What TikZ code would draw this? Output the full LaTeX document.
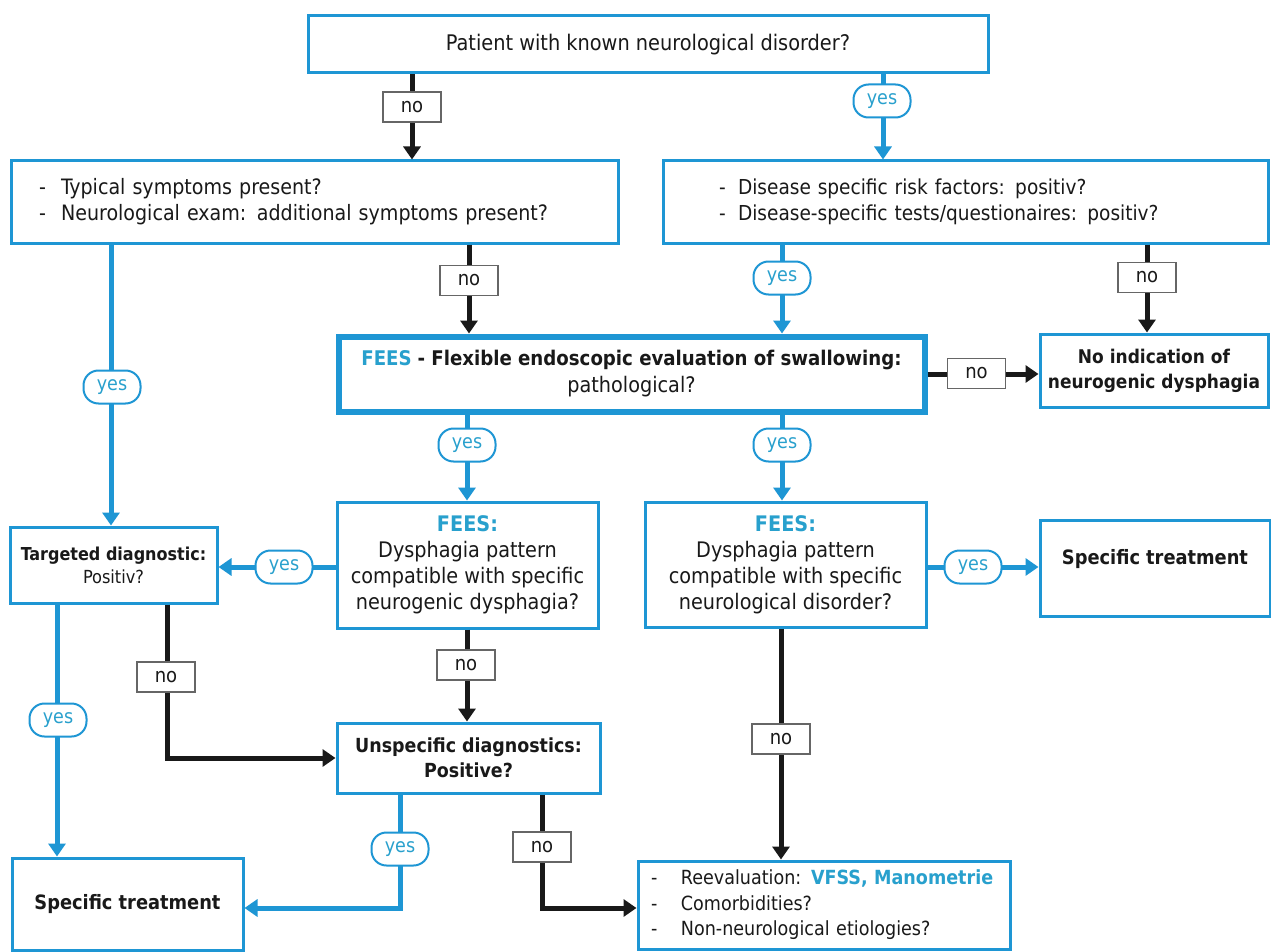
\documentclass[tikz,border=0pt]{standalone}
\usepackage{fontspec}
\setmainfont{DejaVuSansCondensed}[Extension=.ttf,BoldFont=DejaVuSansCondensed-Bold]
\usetikzlibrary{arrows.meta}
\definecolor{bl}{RGB}{30,150,212}
\definecolor{blt}{RGB}{40,160,205}
\definecolor{dk}{RGB}{25,25,25}
\newcommand{\bul}[2]{\makebox[#1][l]{-}#2}
\newcommand{\fsz}[2]{\fontsize{#1}{#2}\selectfont}
\begin{document}
\begin{tikzpicture}[x=1pt,y=-1pt,
  font=\fsz{18.5}{26},
  box/.style={draw=bl,line width=3pt,fill=white,inner sep=0pt,align=center,text=dk},
  yeslab/.style={draw=bl,line width=2pt,rounded corners=15pt,fill=white,text=blt,minimum width=57pt,minimum height=33pt,inner sep=0pt,font=\fsz{19.5}{20}},
  nolab/.style={draw=black!60,line width=1.5pt,fill=white,text=dk,minimum width=58pt,minimum height=30pt,inner sep=0pt,font=\fsz{20}{20}},
  bla/.style={line width=5pt,draw=dk,-{Triangle[length=13pt,width=17pt]}},
  blu/.style={line width=5pt,draw=bl,-{Triangle[length=13pt,width=17pt]}}]
\useasboundingbox (0,0) rectangle (1271,952);
\fill[white] (0,0) rectangle (1271,952);
% boxes
\node[box,minimum width=680pt,minimum height=57pt,font=\fsz{21.5}{26}] (top) at (648,44.5) {Patient with known neurological disorder?};
\node[box,minimum width=607pt,minimum height=82pt,text width=551pt,align=left,font=\fsz{21.2}{26}] (sym) at (314.5,202)
  {\bul{22pt}{Typical symptoms present?}\\\bul{22pt}{Neurological exam: additional symptoms present?}};
\node[box,minimum width=605pt,minimum height=82pt,text width=493pt,align=left,font=\fsz{20.6}{26}] (dis) at (965.5,202)
  {\bul{19pt}{Disease specific risk factors: positiv?}\\\bul{19pt}{Disease-specific tests/questionaires: positiv?}};
\node[box,line width=6pt,minimum width=586pt,minimum height=75pt,font=\fsz{20.2}{27}] (fees) at (631.5,374)
  {\textcolor{blt}{\textbf{FEES}} \textbf{- Flexible endoscopic evaluation of swallowing:}\\{\fsz{21.4}{27}pathological?}};
\node[box,minimum width=228pt,minimum height=73pt,font=\fsz{18.9}{25}\bfseries] (noind) at (1154,370.5)
  {No indication of\\neurogenic dysphagia};
\node[box,minimum width=207pt,minimum height=76pt,font=\fsz{17.8}{23}] (targ) at (113.5,565)
  {\textbf{Targeted diagnostic:}\\{\fsz{18}{23}Positiv?}};
\node[box,minimum width=261pt,minimum height=126pt,font=\fsz{21.4}{26}] (fees1) at (467.5,565)
  {\textcolor{blt}{\textbf{FEES:}}\\Dysphagia pattern\\compatible with specific\\neurogenic dysphagia?};
\node[box,minimum width=281pt,minimum height=125pt,font=\fsz{21.4}{26}] (fees2) at (785.5,564.5)
  {\textcolor{blt}{\textbf{FEES:}}\\Dysphagia pattern\\compatible with specific\\neurological disorder?};
\node[box,minimum width=230pt,minimum height=96pt,font=\fsz{19.8}{26}\bfseries] (spec2) at (1155,568)
  {Specific treatment\\[-4pt]\phantom{x}};
\node[box,minimum width=263pt,minimum height=70pt,font=\fsz{19.4}{25}\bfseries] (unsp) at (468.5,758)
  {Unspecific diagnostics:\\Positive?};
\node[box,minimum width=231pt,minimum height=92pt,font=\fsz{19.8}{26}\bfseries] (spec1) at (127.5,904)
  {Specific treatment};
\node[box,minimum width=372pt,minimum height=88pt,text width=346pt,align=left,font=\fsz{19.5}{25.5}] (reev) at (824,905)
  {\bul{30pt}{Reevaluation: \textcolor{blt}{\textbf{VFSS, Manometrie}}}\\\bul{30pt}{Comorbidities?}\\\bul{30pt}{Non-neurological etiologies?}};
% connectors
\draw[bla] (top.south -| 412,0) -- (sym.north -| 412,0);
\draw[blu] (top.south -| 883,0) -- (dis.north -| 883,0);
\draw[bla] (sym.south -| 469,0) -- (fees.north -| 469,0);
\draw[blu] (dis.south -| 782,0) -- (fees.north -| 782,0);
\draw[bla] (dis.south -| 1147,0) -- (noind.north -| 1147,0);
\draw[bla] (fees.east |- 0,374) -- (noind.west |- 0,374);
\draw[blu] (sym.south -| 111,0) -- (targ.north -| 111,0);
\draw[blu] (fees.south -| 467,0) -- (fees1.north -| 467,0);
\draw[blu] (fees.south -| 782,0) -- (fees2.north -| 782,0);
\draw[blu] (fees1.west |- 0,567) -- (targ.east |- 0,567);
\draw[blu] (fees2.east |- 0,567) -- (spec2.west |- 0,567);
\draw[bla] (fees1.south -| 467,0) -- (unsp.north -| 467,0);
\draw[bla] (targ.south -| 167,0) |- (unsp.west);
\draw[blu] (targ.south -| 57,0) -- (spec1.north -| 57,0);
\draw[blu] (unsp.south -| 400,0) |- (spec1.east |- 0,908);
\draw[bla] (unsp.south -| 542,0) |- (reev.west |- 0,908);
\draw[bla] (fees2.south -| 781,0) -- (reev.north -| 781,0);
% labels
\node[nolab] (l1) at (412,107) {no};
\node[yeslab] (l2) at (882,101) {yes};
\node[nolab] (l3) at (469,280.5) {no};
\node[yeslab] (l4) at (782,278) {yes};
\node[nolab] (l5) at (1147,277.5) {no};
\node[nolab] (l6) at (976.5,373.5) {no};
\node[yeslab] (l7) at (112,387) {yes};
\node[yeslab] (l8) at (467,445) {yes};
\node[yeslab] (l9) at (782,445) {yes};
\node[yeslab] (l10) at (284,567) {yes};
\node[yeslab] (l11) at (973,567) {yes};
\node[nolab] (l12) at (466,665) {no};
\node[nolab] (l13) at (166,677) {no};
\node[yeslab] (l14) at (58,720) {yes};
\node[yeslab] (l15) at (400,849) {yes};
\node[nolab] (l16) at (542,847) {no};
\node[nolab] (l17) at (781,739) {no};
\end{tikzpicture}
\end{document}
